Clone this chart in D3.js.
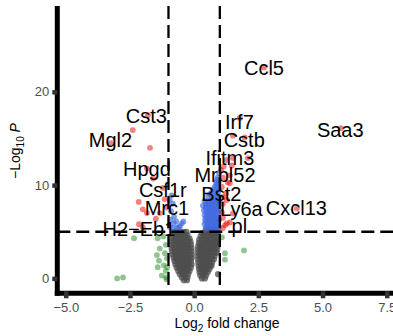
<!DOCTYPE html>
<html>
<head>
<meta charset="utf-8">
<script src="https://cdn.jsdelivr.net/npm/d3@7"></script>
<style>
  body { margin: 0; background: #fff; }
  svg { display: block; font-family: "Liberation Sans", Arial, sans-serif; }
</style>
</head>
<body>
<svg id="chart" width="393" height="336"></svg>
<script>
// log2FC, -log10 P
const nsLeft = [
  [-0.80, 5.0], [-0.68, 5.0], [-0.55, 5.0], [-0.42, 5.0], [-0.30, 5.0],
  [-0.84, 4.65], [-0.72, 4.65], [-0.60, 4.65], [-0.48, 4.65], [-0.36, 4.65], [-0.26, 4.65],
  [-0.86, 4.3], [-0.75, 4.3], [-0.63, 4.3], [-0.52, 4.3], [-0.40, 4.3], [-0.28, 4.3], [-0.18, 4.3],
  [-0.88, 3.95], [-0.77, 3.95], [-0.66, 3.95], [-0.55, 3.95], [-0.44, 3.95], [-0.33, 3.95], [-0.22, 3.95], [-0.14, 3.95],
  [-0.89, 3.6], [-0.78, 3.6], [-0.67, 3.6], [-0.56, 3.6], [-0.45, 3.6], [-0.34, 3.6], [-0.24, 3.6], [-0.12, 3.6],
  [-0.88, 3.25], [-0.77, 3.25], [-0.66, 3.25], [-0.55, 3.25], [-0.44, 3.25], [-0.33, 3.25], [-0.22, 3.25], [-0.10, 3.25],
  [-0.86, 2.9], [-0.75, 2.9], [-0.64, 2.9], [-0.53, 2.9], [-0.42, 2.9], [-0.31, 2.9], [-0.20, 2.9], [-0.10, 2.9],
  [-0.84, 2.55], [-0.73, 2.55], [-0.62, 2.55], [-0.51, 2.55], [-0.40, 2.55], [-0.29, 2.55], [-0.18, 2.55], [-0.09, 2.55],
  [-0.80, 2.2], [-0.70, 2.2], [-0.59, 2.2], [-0.48, 2.2], [-0.37, 2.2], [-0.26, 2.2], [-0.16, 2.2], [-0.09, 2.2],
  [-0.77, 1.85], [-0.66, 1.85], [-0.55, 1.85], [-0.44, 1.85], [-0.33, 1.85], [-0.22, 1.85], [-0.12, 1.85],
  [-0.73, 1.5], [-0.62, 1.5], [-0.51, 1.5], [-0.40, 1.5], [-0.29, 1.5], [-0.18, 1.5], [-0.10, 1.5],
  [-0.68, 1.15], [-0.57, 1.15], [-0.46, 1.15], [-0.35, 1.15], [-0.24, 1.15], [-0.13, 1.15],
  [-0.62, 0.8], [-0.51, 0.8], [-0.40, 0.8], [-0.29, 0.8], [-0.18, 0.8],
  [-0.56, 0.45], [-0.45, 0.45], [-0.34, 0.45], [-0.23, 0.45],
  [-0.48, 0.1], [-0.37, 0.1], [-0.26, 0.1],
  [-0.40, -0.2], [-0.28, -0.2],
  [-0.62, 4.8], [-0.38, 4.45], [-0.70, 4.1], [-0.50, 3.75], [-0.28, 3.4], [-0.60, 3.05],
  [-0.36, 2.7], [-0.68, 2.35], [-0.44, 2.0], [-0.25, 1.65], [-0.56, 1.3], [-0.30, 0.95], [-0.42, 0.6]
]

const nsRight = [
  [0.45, 5.2], [0.57, 5.2], [0.68, 5.2], [0.79, 5.2], [0.90, 5.2],
  [0.30, 4.85], [0.41, 4.85], [0.52, 4.85], [0.63, 4.85], [0.74, 4.85], [0.85, 4.85], [0.93, 4.85],
  [0.25, 4.5], [0.36, 4.5], [0.47, 4.5], [0.58, 4.5], [0.69, 4.5], [0.80, 4.5], [0.91, 4.5],
  [0.20, 4.15], [0.31, 4.15], [0.42, 4.15], [0.53, 4.15], [0.64, 4.15], [0.75, 4.15], [0.86, 4.15], [0.93, 4.15],
  [0.18, 3.8], [0.29, 3.8], [0.40, 3.8], [0.51, 3.8], [0.62, 3.8], [0.73, 3.8], [0.84, 3.8], [0.92, 3.8],
  [0.16, 3.45], [0.27, 3.45], [0.38, 3.45], [0.49, 3.45], [0.60, 3.45], [0.71, 3.45], [0.82, 3.45], [0.91, 3.45],
  [0.15, 3.1], [0.26, 3.1], [0.37, 3.1], [0.48, 3.1], [0.59, 3.1], [0.70, 3.1], [0.81, 3.1], [0.90, 3.1],
  [0.15, 2.75], [0.26, 2.75], [0.37, 2.75], [0.48, 2.75], [0.59, 2.75], [0.70, 2.75], [0.80, 2.75], [0.88, 2.75],
  [0.15, 2.4], [0.26, 2.4], [0.37, 2.4], [0.48, 2.4], [0.59, 2.4], [0.70, 2.4], [0.80, 2.4],
  [0.15, 2.05], [0.26, 2.05], [0.37, 2.05], [0.48, 2.05], [0.59, 2.05], [0.69, 2.05], [0.77, 2.05],
  [0.16, 1.7], [0.27, 1.7], [0.38, 1.7], [0.49, 1.7], [0.60, 1.7], [0.70, 1.7],
  [0.17, 1.35], [0.28, 1.35], [0.39, 1.35], [0.50, 1.35], [0.61, 1.35], [0.68, 1.35],
  [0.19, 1.0], [0.30, 1.0], [0.41, 1.0], [0.52, 1.0], [0.60, 1.0],
  [0.21, 0.65], [0.32, 0.65], [0.43, 0.65], [0.53, 0.65],
  [0.24, 0.3], [0.35, 0.3], [0.46, 0.3],
  [0.30, 0.0], [0.42, 0.0],
  [0.93, 0.45],
  [0.62, 5.0], [0.40, 4.65], [0.72, 4.3], [0.50, 3.95], [0.32, 3.6], [0.66, 3.25],
  [0.44, 2.9], [0.22, 2.55], [0.55, 2.2], [0.34, 1.85], [0.45, 1.5], [0.26, 1.15], [0.37, 0.8]
]

const fcOnly = [
  [-2.34, 4.3], [-3.0, 0.0], [-2.77, 0.1],
  [-1.42, 4.3], [-1.20, 4.5], [-1.10, 3.6], [-1.34, 3.2], [-1.14, 2.7], [-1.45, 2.5],
  [-1.06, 2.15], [-1.37, 1.9], [-1.18, 1.4], [-1.42, 1.2], [-1.26, 0.3], [-1.08, 0.1],
  [-1.10, 0.8], [-1.05, 1.2], [-1.08, -0.1],
  [1.08, 4.4], [1.20, 2.7], [1.20, 2.0], [1.94, 3.0]
]

const pOnly = [
  [-0.95, 8.4], [-0.83, 8.0], [-0.88, 8.9], [-0.90, 7.2], [-0.78, 6.6], [-0.92, 6.3],
  [-0.70, 6.1], [-0.48, 5.9], [-0.42, 6.1], [-0.95, 5.5], [-0.83, 5.4], [-0.67, 5.4], [-0.55, 5.6],
  [-0.80, 5.9], [-0.60, 5.5],
  [0.92, 10.8], [0.97, 11.3],
  [0.86, 10.3], [0.96, 10.3], [0.90, 10.55],
  [0.80, 9.8], [0.92, 9.8], [0.86, 10.05], [0.97, 9.55],
  [0.70, 9.3], [0.82, 9.3], [0.94, 9.3], [0.76, 9.55], [0.88, 9.05],
  [0.55, 8.8], [0.68, 8.8], [0.80, 8.8], [0.92, 8.8], [0.62, 9.05], [0.74, 8.55], [0.86, 8.55],
  [0.40, 8.3], [0.52, 8.3], [0.64, 8.3], [0.76, 8.3], [0.88, 8.3], [0.97, 8.3],
  [0.46, 8.05], [0.58, 8.05], [0.70, 8.05], [0.82, 8.05], [0.94, 8.05],
  [0.34, 7.8], [0.46, 7.8], [0.58, 7.8], [0.70, 7.8], [0.82, 7.8], [0.94, 7.8],
  [0.44, 7.55], [0.56, 7.55], [0.68, 7.55], [0.80, 7.55], [0.92, 7.55],
  [0.38, 7.3], [0.50, 7.3], [0.62, 7.3], [0.74, 7.3], [0.86, 7.3], [0.97, 7.3],
  [0.46, 7.05], [0.58, 7.05], [0.70, 7.05], [0.82, 7.05], [0.94, 7.05],
  [0.40, 6.8], [0.52, 6.8], [0.64, 6.8], [0.76, 6.8], [0.88, 6.8],
  [0.46, 6.55], [0.58, 6.55], [0.70, 6.55], [0.82, 6.55], [0.94, 6.55],
  [0.42, 6.3], [0.54, 6.3], [0.66, 6.3], [0.78, 6.3], [0.90, 6.3], [0.98, 6.3],
  [0.46, 6.05], [0.58, 6.05], [0.70, 6.05], [0.82, 6.05], [0.94, 6.05],
  [0.40, 5.8], [0.52, 5.8], [0.64, 5.8], [0.76, 5.8], [0.88, 5.8],
  [0.50, 5.55], [0.62, 5.55], [0.74, 5.55], [0.86, 5.55], [0.96, 5.55],
  [0.45, 5.35], [0.57, 5.35], [0.69, 5.35], [0.81, 5.35], [0.93, 5.35]
]

const bothSig = [
  [-1.80, 17.5], [-2.39, 15.9], [-3.24, 14.5], [-1.72, 14.0], [-1.84, 11.8], [-1.60, 10.7],
  [-1.21, 9.7], [-1.15, 8.5], [-2.16, 8.2], [-2.00, 7.4], [-1.84, 7.0], [-1.34, 7.0],
  [-1.06, 7.6], [-1.49, 6.4], [-2.15, 5.8], [-2.00, 5.5],
  [1.27, 12.7], [1.47, 12.1], [1.05, 11.6], [1.15, 12.0], [1.39, 11.05], [1.12, 10.8],
  [1.31, 10.3], [1.39, 10.2], [1.08, 9.8], [1.24, 9.1], [1.12, 8.7], [1.27, 8.4],
  [1.12, 8.0], [1.08, 7.1], [1.51, 6.96], [1.12, 6.5], [1.27, 5.9], [1.20, 5.7],
  [1.12, 5.4], [1.39, 6.0],
  [1.51, 12.9], [2.09, 12.9], [1.51, 15.3], [1.97, 15.1], [1.78, 17.2],
  [2.72, 22.6], [5.71, 16.1], [4.00, 7.5]
]

// gene labels, placed where the repel put them (data units)
const labelNames = ["Ccl5", "Saa3", "Irf7", "Cstb", "Ifitm3", "Cst3", "Mgl2", "Hpgd",
  "Csf1r", "Mrc1", "H2\u2212Eb1", "Mrbl52", "Bst2", "Ly6a", "pl", "Cxcl13"]
const labelX = [2.72, 5.69, 1.76, 1.95, 1.39, -1.86, -3.26, -1.84,
  -1.22, -1.06, -2.15, 1.20, 1.06, 1.84, 1.76, 3.98]
const labelY = [22.6, 15.9, 16.8, 14.8, 12.9, 17.4, 14.8, 11.7,
  9.5, 7.5, 5.26, 11.05, 9.0, 7.4, 5.6, 7.5]

const xTicks = [-5, -2.5, 0, 2.5, 5, 7.5]
const yTicks = [0, 10, 20]
const fcCutoff = 1
const pCutoff = 5

const svg = d3.select("#chart")

const x = d3.scaleLinear().domain([-5.33, 7.9]).range([57.3, 397])
const y = d3.scaleLinear().domain([-1.6, 29.2]).range([293.3, 6])

// point layers (the grey and blue clouds stand in for thousands of genes, so they run denser)
const layers = [
  { data: nsLeft.concat(nsRight), color: "#4d4d4d", r: 3.1, alpha: 0.75 },
  { data: fcOnly, color: "#228b22", r: 2.9, alpha: 0.5 },
  { data: pOnly, color: "#4169e1", r: 2.9, alpha: 0.65 },
  { data: bothSig, color: "#ee0000", r: 2.9, alpha: 0.5 },
]
layers.forEach(layer => {
  svg.append("g")
    .selectAll("circle")
    .data(layer.data)
    .enter()
    .append("circle")
    .attr("cx", d => x(d[0]))
    .attr("cy", d => y(d[1]))
    .attr("r", layer.r)
    .attr("fill", layer.color)
    .attr("fill-opacity", layer.alpha)
})

// cutoff lines
const cut = svg.append("g")
  .attr("stroke", "#000")
  .attr("stroke-width", 2.3)
  .attr("stroke-dasharray", "13,6")
  .attr("fill", "none")
;[-fcCutoff, fcCutoff].forEach(v => {
  cut.append("line")
    .attr("x1", x(v)).attr("x2", x(v))
    .attr("y1", y(29.2)).attr("y2", y(-1.6))
})
cut.append("line")
  .attr("x1", x(-5.33)).attr("x2", x(7.9))
  .attr("y1", y(pCutoff)).attr("y2", y(pCutoff))

// labels
svg.append("g")
  .selectAll("text")
  .data(labelNames)
  .enter()
  .append("text")
  .attr("x", (d, i) => x(labelX[i]))
  .attr("y", (d, i) => y(labelY[i]))
  .attr("dy", "0.35em")
  .attr("text-anchor", "middle")
  .style("font-size", "20px")
  .attr("fill", "#000")
  .text(d => d)

// axis lines
svg.append("line")
  .attr("x1", x(-5.33)).attr("x2", x(-5.33))
  .attr("y1", y(29.2)).attr("y2", y(-1.6) + 2.5)
  .attr("stroke", "#000").attr("stroke-width", 5)
svg.append("line")
  .attr("x1", x(-5.33) - 2.5).attr("x2", 393)
  .attr("y1", y(-1.6)).attr("y2", y(-1.6))
  .attr("stroke", "#000").attr("stroke-width", 5)

const styleAxis = g => {
  g.select(".domain").remove()
  g.selectAll(".tick line").attr("stroke", "#333").attr("stroke-width", 4.5)
  g.selectAll(".tick text").attr("fill", "#4d4d4d").style("font-size", "13px")
}

svg.append("g")
  .attr("transform", `translate(0,${y(-1.6)})`)
  .call(d3.axisBottom(x).tickValues(xTicks).tickSize(5).tickPadding(4).tickFormat(d3.format(".1f")))
  .call(styleAxis)
  .call(g => g.selectAll(".tick line").attr("y1", -2))

svg.append("g")
  .attr("transform", `translate(${x(-5.33)},0)`)
  .call(d3.axisLeft(y).tickValues(yTicks).tickSize(5).tickPadding(3))
  .call(styleAxis)
  .call(g => g.selectAll(".tick line").attr("x1", 0))

// axis titles
const xt = svg.append("text")
  .attr("x", 227).attr("y", 328)
  .attr("text-anchor", "middle")
  .style("font-size", "14px")
  .attr("fill", "#000")
xt.append("tspan").text("Log")
xt.append("tspan").attr("dy", 4).style("font-size", "10px").text("2")
xt.append("tspan").attr("dy", -4).text(" fold change")

const yt = svg.append("text")
  .attr("transform", "translate(20,151) rotate(-90)")
  .attr("text-anchor", "middle")
  .style("font-size", "14px")
  .attr("fill", "#000")
yt.append("tspan").text("\u2212Log")
yt.append("tspan").attr("dy", 4).style("font-size", "10px").text("10")
yt.append("tspan").attr("dy", -4).text(" ")
yt.append("tspan").style("font-style", "italic").text("P")
</script>
</body>
</html>
